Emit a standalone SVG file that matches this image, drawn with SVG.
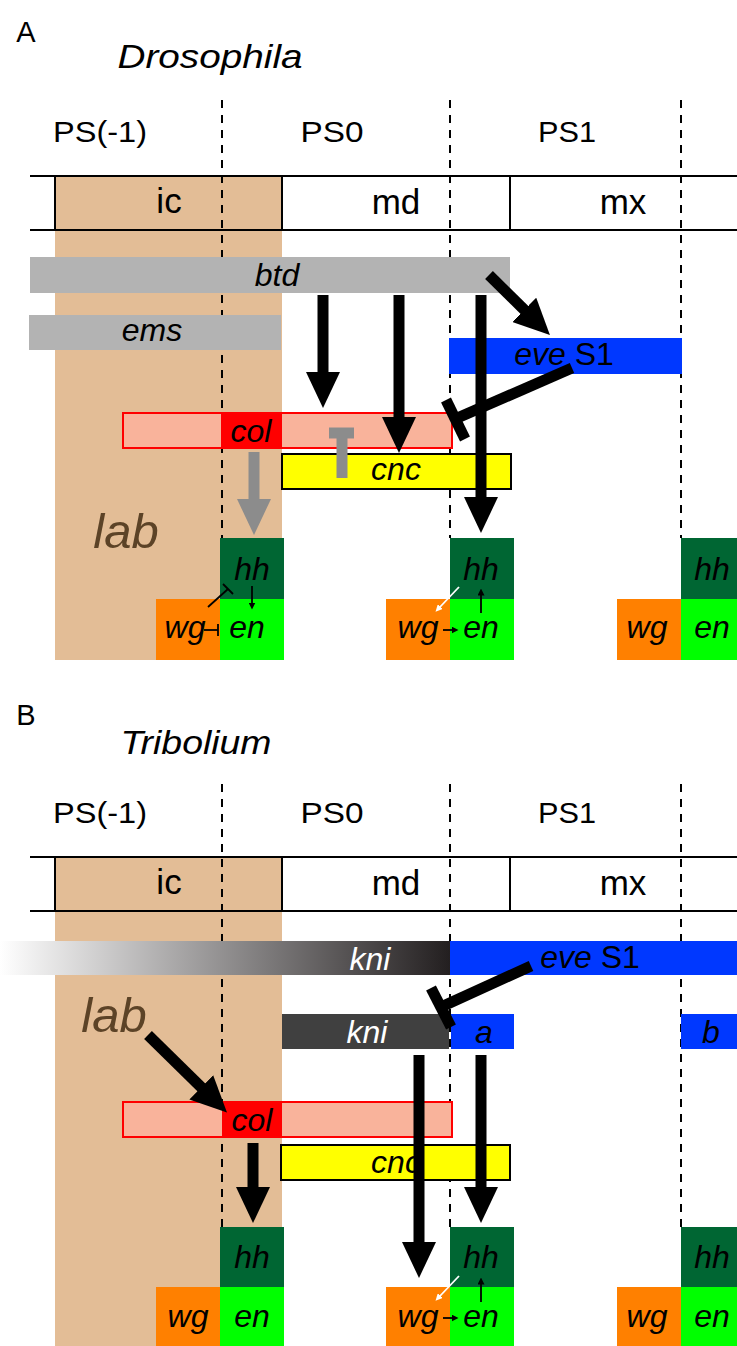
<svg xmlns="http://www.w3.org/2000/svg" width="737" height="1346" viewBox="0 0 737 1346">
<defs>
<style>
text{font-family:"Liberation Sans",Arial,Helvetica,sans-serif;fill:#000}
.hd{font-size:29px;text-anchor:middle}
.sp{font-size:34px;font-style:italic;text-anchor:middle}
.ps{font-size:30px;text-anchor:middle}
.seg{font-size:35px;text-anchor:middle}
.g{font-size:32px;font-style:italic;text-anchor:middle}
.gr{font-size:32px;text-anchor:middle}
.wt{fill:#fff}
.lab{font-size:49px;font-style:italic;fill:#5C4327;text-anchor:middle}
.frame{stroke:#000;stroke-width:2;fill:none}
.dash{stroke:#000;stroke-width:2;stroke-dasharray:8 7;fill:none}
.tan{fill:#E3BD96}
.gray{fill:#B3B3B3}
.blue{fill:#0038FF}
.sal{fill:#F9B39B;stroke:#FF0000;stroke-width:2}
.red{fill:#FF0000}
.yel{fill:#FFFF00;stroke:#000;stroke-width:2}
.dk{fill:#404040}
.dg{fill:#006633}
.lg{fill:#00FF00}
.or{fill:#FF8000}
.big{stroke:#000;stroke-width:11;fill:none}
.bigg{stroke:#8C8C8C;stroke-width:11;fill:none}
.thin{stroke:#000;stroke-width:1.8;fill:none}
.thinw{stroke:#fff;stroke-width:1.8;fill:none}
</style>
<linearGradient id="kgrad" x1="0" y1="0" x2="1" y2="0">
<stop offset="0" stop-color="#ffffff"/>
<stop offset="1" stop-color="#231F20"/>
</linearGradient>
<marker id="ah" markerUnits="userSpaceOnUse" markerWidth="36" markerHeight="34" viewBox="0 0 36 34" refX="1" refY="17" orient="auto"><path d="M0,0 L36,17 L0,34 Z" fill="#000"/></marker>
<marker id="ahg" markerUnits="userSpaceOnUse" markerWidth="36" markerHeight="34" viewBox="0 0 36 34" refX="1" refY="17" orient="auto"><path d="M0,0 L36,17 L0,34 Z" fill="#8C8C8C"/></marker>
<marker id="as" markerUnits="userSpaceOnUse" markerWidth="7" markerHeight="7" viewBox="0 0 7 7" refX="0.5" refY="3.5" orient="auto"><path d="M0,0 L7,3.5 L0,7 Z" fill="#000"/></marker>
<marker id="aw" markerUnits="userSpaceOnUse" markerWidth="7" markerHeight="7" viewBox="0 0 7 7" refX="0.5" refY="3.5" orient="auto"><path d="M0,0 L7,3.5 L0,7 Z" fill="#fff"/></marker>
</defs>

<!-- ===== Panel A background ===== -->
<g id="panelA-bg">
<rect class="tan" x="55" y="176" width="227" height="484"/>
<line class="dash" x1="222" y1="100" x2="222" y2="538"/>
<line class="dash" x1="450" y1="100" x2="450" y2="538"/>
<line class="dash" x1="681" y1="100" x2="681" y2="538"/>
<line class="frame" x1="30" y1="176" x2="737" y2="176"/>
<line class="frame" x1="30" y1="230" x2="737" y2="230"/>
<line class="frame" x1="55" y1="176" x2="55" y2="230"/>
<line class="frame" x1="282" y1="176" x2="282" y2="230"/>
<line class="frame" x1="510" y1="176" x2="510" y2="230"/>
<text class="hd" x="26" y="42">A</text>
<text class="sp" x="210" y="68" textLength="185" lengthAdjust="spacingAndGlyphs">Drosophila</text>
<text class="ps" x="100" y="142" textLength="94" lengthAdjust="spacingAndGlyphs">PS(-1)</text>
<text class="ps" x="332" y="142" textLength="63" lengthAdjust="spacingAndGlyphs">PS0</text>
<text class="ps" x="567" y="142" textLength="58" lengthAdjust="spacingAndGlyphs">PS1</text>
<text class="seg" x="169" y="213">ic</text>
<text class="seg" x="396" y="214">md</text>
<text class="seg" x="623" y="214">mx</text>
<text class="lab" x="126" y="548">lab</text>
</g>

<g id="A-btd"><rect class="gray" x="30" y="257" width="480" height="36"/><text class="g" x="277" y="286">btd</text></g>
<g id="A-ems"><rect class="gray" x="29" y="315" width="252" height="35"/><text class="g" x="152" y="341">ems</text></g>
<g id="A-eve"><rect class="blue" x="449" y="338" width="233" height="36"/><text class="gr" x="564" y="365"><tspan font-style="italic">eve</tspan> S1</text></g>
<g id="A-col"><rect class="sal" x="123" y="413" width="329" height="35"/><rect class="red" x="221" y="414" width="61" height="33"/><text class="g" x="251" y="442">col</text></g>
<g id="A-cnc"><rect class="yel" x="282" y="454" width="229" height="35"/><text class="g" x="396" y="480">cnc</text></g>

<g id="A-seg1">
<rect class="dg" x="220" y="538" width="64" height="61"/><rect class="lg" x="220" y="599" width="64" height="61"/><rect class="or" x="156" y="599" width="64" height="61"/>
<text class="g" x="252" y="580">hh</text><text class="g" x="185" y="638">wg</text><text class="g" x="247" y="638">en</text>
</g>
<g id="A-seg2">
<rect class="dg" x="450" y="538" width="64" height="61"/><rect class="lg" x="450" y="599" width="64" height="61"/><rect class="or" x="386" y="599" width="64" height="61"/>
<text class="g" x="481" y="580">hh</text><text class="g" x="418" y="638">wg</text><text class="g" x="481" y="638">en</text>
</g>
<g id="A-seg3">
<rect class="dg" x="681" y="538" width="64" height="61"/><rect class="lg" x="681" y="599" width="64" height="61"/><rect class="or" x="617" y="599" width="64" height="61"/>
<text class="g" x="712" y="580">hh</text><text class="g" x="647" y="638">wg</text><text class="g" x="712" y="638">en</text>
</g>

<!-- ===== Panel B background ===== -->
<g id="panelB-bg">
<rect class="tan" x="55" y="857" width="227" height="489"/>
<line class="dash" x1="222" y1="784" x2="222" y2="1227"/>
<line class="dash" x1="450" y1="784" x2="450" y2="1227"/>
<line class="dash" x1="681" y1="784" x2="681" y2="1227"/>
<line class="frame" x1="30" y1="857" x2="737" y2="857"/>
<line class="frame" x1="30" y1="911" x2="737" y2="911"/>
<line class="frame" x1="55" y1="857" x2="55" y2="911"/>
<line class="frame" x1="282" y1="857" x2="282" y2="911"/>
<line class="frame" x1="510" y1="857" x2="510" y2="911"/>
<text class="hd" x="26" y="725">B</text>
<text class="sp" x="196" y="754" textLength="151" lengthAdjust="spacingAndGlyphs">Tribolium</text>
<text class="ps" x="100" y="823" textLength="94" lengthAdjust="spacingAndGlyphs">PS(-1)</text>
<text class="ps" x="332" y="823" textLength="63" lengthAdjust="spacingAndGlyphs">PS0</text>
<text class="ps" x="567" y="823" textLength="58" lengthAdjust="spacingAndGlyphs">PS1</text>
<text class="seg" x="169" y="894">ic</text>
<text class="seg" x="396" y="895">md</text>
<text class="seg" x="623" y="895">mx</text>
<text class="lab" x="114" y="1032">lab</text>
</g>

<g id="B-kni-grad"><rect x="0" y="941" width="450" height="34" fill="url(#kgrad)"/><text class="g wt" x="370" y="970">kni</text></g>
<g id="B-eve"><rect class="blue" x="450" y="941" width="287" height="34"/><text class="gr" x="590" y="968"><tspan font-style="italic">eve</tspan> S1</text></g>
<g id="B-kni"><rect class="dk" x="282" y="1014" width="167" height="35"/><text class="g wt" x="367" y="1043">kni</text></g>
<g id="B-a"><rect class="blue" x="451" y="1014" width="63" height="35"/><text class="g" x="484" y="1043">a</text></g>
<g id="B-b"><rect class="blue" x="681" y="1014" width="56" height="35"/><text class="g" x="711" y="1043">b</text></g>
<g id="B-col"><rect class="sal" x="123" y="1102" width="329" height="35"/><rect class="red" x="222" y="1103" width="60" height="33"/><text class="g" x="252" y="1131">col</text></g>
<g id="B-cnc"><rect class="yel" x="281" y="1145" width="229" height="35"/><text class="g" x="396" y="1173">cnc</text></g>

<g id="B-seg1">
<rect class="dg" x="220" y="1227" width="64" height="60"/><rect class="lg" x="220" y="1287" width="64" height="59"/><rect class="or" x="156" y="1287" width="64" height="59"/>
<text class="g" x="252" y="1268">hh</text><text class="g" x="188" y="1327">wg</text><text class="g" x="252" y="1327">en</text>
</g>
<g id="B-seg2">
<rect class="dg" x="450" y="1227" width="64" height="60"/><rect class="lg" x="450" y="1287" width="64" height="59"/><rect class="or" x="386" y="1287" width="64" height="59"/>
<text class="g" x="481" y="1268">hh</text><text class="g" x="418" y="1327">wg</text><text class="g" x="481" y="1327">en</text>
</g>
<g id="B-seg3">
<rect class="dg" x="681" y="1227" width="64" height="60"/><rect class="lg" x="681" y="1287" width="64" height="59"/><rect class="or" x="617" y="1287" width="64" height="59"/>
<text class="g" x="712" y="1268">hh</text><text class="g" x="647" y="1327">wg</text><text class="g" x="712" y="1327">en</text>
</g>

<!-- ===== Connectors ===== -->
<g id="connectors">
<!-- Panel A -->
<line class="big" x1="323" y1="295" x2="323" y2="373" marker-end="url(#ah)"/>
<line class="big" x1="399" y1="295" x2="399" y2="418" marker-end="url(#ah)"/>
<line class="big" x1="481" y1="295" x2="481" y2="498" marker-end="url(#ah)"/>
<line class="big" x1="489" y1="275" x2="525" y2="310.5" marker-end="url(#ah)"/>
<line class="big" x1="572" y1="368" x2="455" y2="419"/>
<line class="big" x1="446" y1="400" x2="465" y2="439"/>
<line class="bigg" x1="254" y1="452" x2="254" y2="500" marker-end="url(#ahg)"/>
<line class="bigg" x1="342" y1="478" x2="342" y2="433"/>
<line class="bigg" x1="329" y1="433" x2="354" y2="433" stroke-width="9"/>
<line class="thin" x1="208" y1="607" x2="228" y2="589"/>
<line class="thin" x1="223" y1="584" x2="233" y2="594"/>
<line class="thin" x1="252" y1="586" x2="252" y2="603" marker-end="url(#as)"/>
<line class="thin" x1="204" y1="630" x2="218" y2="630"/>
<line class="thin" x1="218" y1="624" x2="218" y2="636"/>
<line class="thin" x1="443" y1="630" x2="452" y2="630" marker-end="url(#as)"/>
<line class="thin" x1="481" y1="613" x2="481" y2="595" marker-end="url(#as)"/>
<line class="thinw" x1="459" y1="587" x2="440" y2="607" marker-end="url(#aw)"/>
<!-- Panel B -->
<line class="big" x1="531" y1="966" x2="441" y2="1007"/>
<line class="big" x1="431" y1="988" x2="451" y2="1027"/>
<line class="big" x1="148" y1="1035" x2="202" y2="1088" marker-end="url(#ah)"/>
<line class="big" x1="253" y1="1143" x2="253" y2="1188" marker-end="url(#ah)"/>
<line class="big" x1="419" y1="1055" x2="419" y2="1243" marker-end="url(#ah)"/>
<line class="big" x1="481" y1="1055" x2="481" y2="1188" marker-end="url(#ah)"/>
<line class="thin" x1="443" y1="1318" x2="452" y2="1318" marker-end="url(#as)"/>
<line class="thin" x1="481" y1="1302" x2="481" y2="1284" marker-end="url(#as)"/>
<line class="thinw" x1="459" y1="1276" x2="440" y2="1296" marker-end="url(#aw)"/>
</g>
</svg>
